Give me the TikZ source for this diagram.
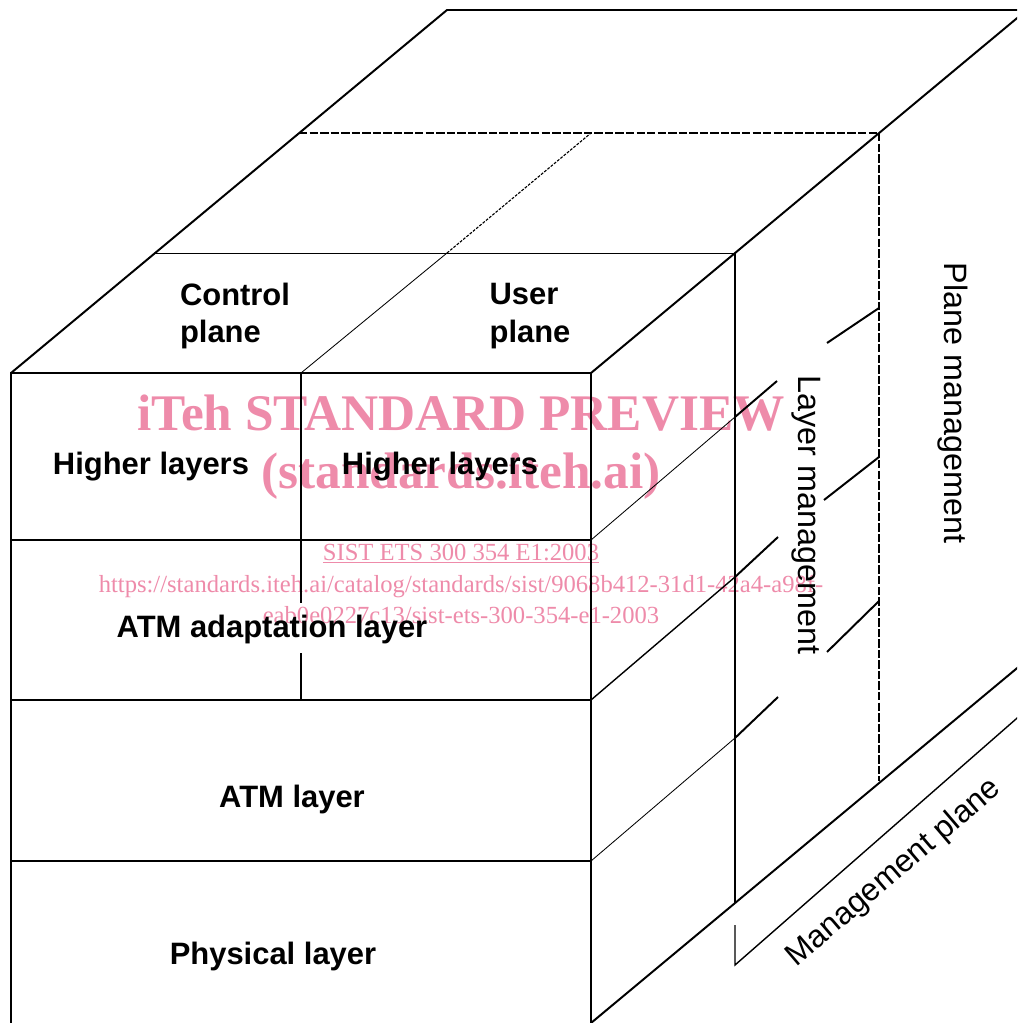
\documentclass[tikz,border=0pt]{standalone}
\usepackage{fontspec}
\setmainfont{Liberation Sans}
\newfontfamily\wmfont{Liberation Serif}
\definecolor{wmpink}{RGB}{238,139,170}

\tikzset{
  frame/.style={line width=1.4pt},
  midline/.style={line width=1pt},
  thinline/.style={line width=0.6pt},
  hidden/.style={line width=1pt, dash pattern=on 6pt off 1.5pt},
  hiddenfine/.style={line width=0.8pt, dash pattern=on 2pt off 1pt},
  layerlabel/.style={font=\bfseries\fontsize{22}{27}\selectfont},
  mgmtlabel/.style={font=\fontsize{23}{27}\selectfont},
  wmbig/.style={text=wmpink, font=\wmfont\bfseries\fontsize{36.5}{40}\selectfont, anchor=base},
  wmsmall/.style={text=wmpink, font=\wmfont\fontsize{17.5}{22}\selectfont, anchor=base}
}

\begin{document}
\begin{tikzpicture}[x=0.025cm, y=-0.025cm]
  \useasboundingbox (0,0) rectangle (1017,1023);
  \clip (0,0) rectangle (1017,1023);

  % watermark (underneath)
  \node[wmbig] (wmtitle) at (461,430) {iTeh STANDARD PREVIEW};
  \node[wmbig] (wmsite) at (461,488) {(standards.iteh.ai)};
  \node[wmsmall] (wmref) at (461,560) {\underline{SIST ETS 300 354 E1:2003}};
  \node[wmsmall] (wmurl) at (461,592) {https://standards.iteh.ai/catalog/standards/sist/9068b412-31d1-42a4-a98f-};
  \node[wmsmall] (wmurlb) at (461,623) {eab0e0227c13/sist-ets-300-354-e1-2003};

  % front face
  \coordinate (ftl) at (11,373);
  \coordinate (ftr) at (591,373);
  \coordinate (fbl) at (11,1023);
  \coordinate (fbr) at (591,1023);
  \draw[frame] (fbl) -- (ftl) -- (ftr) -- (fbr);
  \foreach \y in {540,700,861}
    \draw[frame] (11,\y) -- (591,\y);
  \draw[frame] (301,373) -- (301,603);
  \draw[frame] (301,653) -- (301,700);

  % top face
  \draw[frame] (ftl) -- (447,10) -- (1040,10);
  \draw[frame] (ftr) -- (1040,-1);
  \draw[thinline] (155,253) -- (735,253);
  \draw[thinline] (301,373) -- (447,253);
  \draw[hiddenfine] (447,253) -- (591,133);
  \draw[hidden] (299,133) -- (879,133) -- (879,781);

  % right side: layer and plane management
  \draw[midline] (735,253) -- (735,903);
  \draw[frame] (fbr) -- (1040,649);
  \draw[midline] (735,925) -- (735,965) -- (1040,698);

  \draw[thinline] (591,540) -- (735,417);
  \draw[frame] (735,417) -- (777,381);
  \draw[midline] (591,700) -- (735,577);
  \draw[frame] (735,577) -- (778,537);
  \draw[thinline] (591,861) -- (735,738);
  \draw[frame] (735,738) -- (778,697);

  \draw[frame] (827,343) -- (879,308);
  \draw[frame] (824,500) -- (879,457);
  \draw[frame] (827,652) -- (879,601);

  % labels
  \node[layerlabel, align=left] (ctrl) at (235,316) {Control\\plane};
  \node[layerlabel, align=left] (user) at (530,316) {User\\plane};
  \node[layerlabel, anchor=base] (highc) at (151,474) {Higher layers};
  \node[layerlabel, anchor=base] (highu) at (440,474) {Higher layers};
  \node[layerlabel, anchor=base] (aal) at (272,637) {ATM adaptation layer};
  \node[layerlabel, anchor=base] (atm) at (292,807) {ATM layer};
  \node[layerlabel, anchor=base] (phy) at (273,964) {Physical layer};

  \node[mgmtlabel, rotate=-90] (layermg) at (806,515) {Layer management};
  \node[mgmtlabel, rotate=-90] (planemg) at (953,403) {Plane management};
  \node[mgmtlabel, rotate=40.5, font=\fontsize{22.5}{27}\selectfont] (mgplane) at (894,873) {Management plane};
\end{tikzpicture}
\end{document}
